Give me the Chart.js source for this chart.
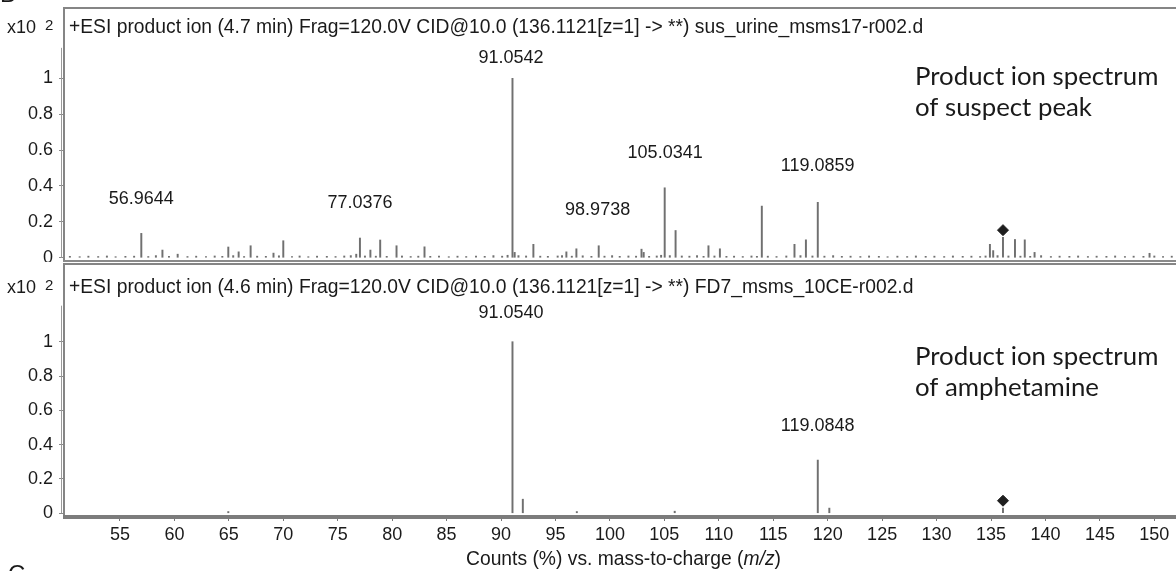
<!DOCTYPE html>
<html>
<head>
<meta charset="utf-8">
<script src="https://cdn.jsdelivr.net/npm/chart.js@4.4.1/dist/chart.umd.min.js"></script>
<style>
  html, body { margin: 0; padding: 0; background: #fff; }
  #wrap { position: relative; width: 1176px; height: 571px; overflow: hidden; }
  #top { position: absolute; left: 0; top: 0; }
  #bottom { position: absolute; left: 0; top: 262px; }
</style>
</head>
<body>
<div id="wrap">
  <canvas id="top" width="1176" height="262"></canvas>
  <canvas id="bottom" width="1176" height="309"></canvas>
</div>
<script>
// axis ticks
const xTicks = [55, 60, 65, 70, 75, 80, 85, 90, 95, 100, 105, 110, 115, 120, 125, 130, 135, 140, 145, 150];
const yTicks = [0, 0.2, 0.4, 0.6, 0.8, 1];

// suspect peak spectrum (counts x10^2)
const suspectMz = [56.96, 58.9, 60.3, 64.95, 65.9, 67.0, 69.1, 70.0, 76.7, 77.04, 78.0, 78.9, 80.4, 82.97,
  91.05, 91.25, 92.97, 96.0, 96.92, 98.97, 102.9, 103.1, 105.03, 106.03, 109.05, 110.1, 113.95,
  116.95, 118.0, 119.09, 134.9, 135.2, 136.1, 137.2, 138.1, 139.0, 149.56];
const suspectCounts = [0.136, 0.043, 0.02, 0.06, 0.033, 0.067, 0.026, 0.095, 0.02, 0.11, 0.043, 0.099, 0.067, 0.061,
  1.0, 0.03, 0.075, 0.033, 0.05, 0.067, 0.048, 0.03, 0.39, 0.152, 0.067, 0.05, 0.288,
  0.075, 0.1, 0.309, 0.075, 0.04, 0.114, 0.102, 0.1, 0.03, 0.025];

// baseline noise of the suspect spectrum
const noiseMz = [50.4, 51.3, 52.1, 53.0, 53.8, 54.6, 55.5, 56.3, 57.6, 58.3, 59.5, 61.2, 62.0, 62.9, 63.7, 64.4,
  65.4, 66.4, 67.6, 68.4, 69.6, 70.8, 71.5, 72.3, 73.1, 74.0, 74.8, 75.6, 76.2, 77.5, 78.5, 79.5, 80.9, 81.7,
  82.4, 83.5, 84.3, 85.2, 86.0, 86.8, 87.7, 88.5, 89.3, 90.1, 90.6, 91.6, 92.3, 93.6, 94.3, 95.2, 95.6, 96.5,
  97.5, 98.3, 99.5, 100.2, 100.9, 101.7, 102.4, 103.6, 104.3, 104.7, 105.5, 106.6, 107.3, 108.0, 108.6, 109.6,
  110.7, 111.4, 112.2, 113.0, 113.5, 114.5, 115.3, 116.2, 117.5, 118.6, 119.7, 120.5, 121.3, 122.1, 123.0,
  123.8, 124.7, 125.5, 126.4, 127.3, 128.1, 129.0, 129.8, 130.7, 131.5, 132.4, 133.2, 134.0, 134.5, 135.6,
  136.6, 137.7, 138.6, 139.6, 140.5, 141.3, 142.2, 143.0, 143.9, 144.7, 145.6, 146.4, 147.3, 148.1, 149.0,
  150.0, 150.8, 151.6];
const noiseCounts = [0.008, 0.006, 0.009, 0.007, 0.01, 0.006, 0.008, 0.009, 0.007, 0.012, 0.008, 0.007, 0.009, 0.006, 0.01, 0.008,
  0.012, 0.007, 0.009, 0.008, 0.011, 0.007, 0.01, 0.006, 0.009, 0.008, 0.007, 0.01, 0.012, 0.01, 0.009, 0.008, 0.01, 0.007,
  0.009, 0.008, 0.01, 0.006, 0.009, 0.007, 0.01, 0.008, 0.012, 0.009, 0.014, 0.012, 0.01, 0.009, 0.008, 0.01, 0.012, 0.009,
  0.011, 0.008, 0.009, 0.012, 0.008, 0.01, 0.009, 0.008, 0.01, 0.014, 0.012, 0.01, 0.009, 0.012, 0.008, 0.01,
  0.008, 0.009, 0.007, 0.01, 0.008, 0.009, 0.007, 0.01, 0.012, 0.01, 0.009, 0.012, 0.008, 0.009, 0.007,
  0.01, 0.008, 0.006, 0.009, 0.007, 0.01, 0.008, 0.009, 0.007, 0.01, 0.008, 0.009, 0.007, 0.01, 0.012,
  0.01, 0.009, 0.008, 0.012, 0.007, 0.009, 0.008, 0.01, 0.007, 0.009, 0.008, 0.01, 0.007, 0.009, 0.008,
  0.01, 0.007, 0.009];

// amphetamine reference spectrum
const amphMz = [64.95, 91.05, 92.0, 96.96, 105.95, 119.09, 120.15, 136.1];
const amphCounts = [0.01, 1.0, 0.082, 0.01, 0.012, 0.31, 0.03, 0.03];

// precursor markers
const precursorMz = 136.1;
const suspectPrecursor = 0.154;
const amphPrecursor = 0.073;

// peak labels
const suspectLabels = ['56.9644', '77.0376', '91.0542', '98.9738', '105.0341', '119.0859'];
const suspectLabelMz = [56.96, 77.04, 90.92, 98.87, 105.07, 119.08];
const suspectLabelLevel = [0.327, 0.305, 1.113, 0.266, 0.584, 0.511];
const amphLabels = ['91.0540', '119.0848'];
const amphLabelMz = [90.92, 119.08];
const amphLabelLevel = [1.166, 0.51];

const SANS = '"Liberation Sans", Arial, sans-serif';

function pts(xs, ys) {
    return xs.map((v, i) => ({ x: v, y: ys[i] }));
}

function noEdgePadding(s) {
    s.paddingTop = 0;
    s.paddingBottom = 0;
    s.paddingLeft = 0;
    s.paddingRight = 0;
}

const decor = {
    id: 'decor',
    afterDraw(chart, args, o) {
        const { ctx, chartArea: a, scales: { x, y } } = chart;
        ctx.save();
        // frame
        ctx.strokeStyle = '#858585';
        ctx.lineWidth = 2;
        ctx.beginPath();
        ctx.moveTo(a.right + 2, a.top);
        ctx.lineTo(a.left, a.top);
        ctx.lineTo(a.left, a.bottom);
        ctx.stroke();
        ctx.strokeStyle = o.bottomColor;
        ctx.lineWidth = o.bottomWidth;
        ctx.beginPath();
        ctx.moveTo(a.left - 1, a.bottom + o.bottomWidth / 2 - 1);
        ctx.lineTo(a.right + 2, a.bottom + o.bottomWidth / 2 - 1);
        ctx.stroke();
        // y axis line
        ctx.strokeStyle = '#9a9a9a';
        ctx.lineWidth = 1;
        ctx.beginPath();
        ctx.moveTo(a.left - 2.5, y.getPixelForValue(o.axisTop));
        ctx.lineTo(a.left - 2.5, y.getPixelForValue(0));
        ctx.stroke();

        ctx.fillStyle = '#1a1a1a';
        ctx.textBaseline = 'middle';
        ctx.textAlign = 'left';
        ctx.font = '19.3px ' + SANS;
        ctx.fillText(o.header, a.left + 5, o.headerY);
        ctx.font = '18px ' + SANS;
        ctx.fillText('x10', 7, o.headerY);
        ctx.font = '15px ' + SANS;
        ctx.fillText('2', 45, o.headerY - 2);

        // peak labels
        ctx.font = '18px ' + SANS;
        ctx.textAlign = 'center';
        o.labels.forEach((t, i) => {
            ctx.fillText(t, x.getPixelForValue(o.labelMz[i]), y.getPixelForValue(o.labelLevel[i]));
        });

        // note
        ctx.font = '25.8px Lato, "Open Sans", sans-serif';
        ctx.textAlign = 'left';
        o.note.forEach((t, i) => ctx.fillText(t, 915, o.noteY + i * 31));

        if (o.xTitle) {
            const f = '19.3px ' + SANS;
            const fi = 'italic 19.3px ' + SANS;
            const p1 = 'Counts (%) vs. mass-to-charge (';
            const p3 = ')';
            ctx.font = f;
            const w1 = ctx.measureText(p1).width;
            ctx.font = fi;
            const w2 = ctx.measureText('m/z').width;
            const sx = 466;
            ctx.textAlign = 'left';
            ctx.font = f;
            ctx.fillText(p1, sx, 298);
            ctx.font = fi;
            ctx.fillText('m/z', sx + w1, 298);
            ctx.font = f;
            ctx.fillText(p3, sx + w1 + w2, 298);
        }
        if (o.corner) {
            ctx.textBaseline = 'alphabetic';
            ctx.font = '24px ' + SANS;
            ctx.fillText(o.corner, o.cornerX, o.cornerY);
        }
        ctx.restore();
    }
};

function makeChart(id, cfg) {
    const ctx = document.getElementById(id);
    const datasets = cfg.sets.map(s => ({
        type: 'bar',
        data: pts(s[0], s[1]),
        backgroundColor: '#707070',
        barThickness: 1.3,
        grouped: false
    }));
    datasets.push({
        type: 'scatter',
        data: [{ x: precursorMz, y: cfg.marker }],
        pointStyle: 'rectRot',
        radius: 5.5,
        backgroundColor: '#1e1e1e',
        borderColor: '#1e1e1e',
        borderWidth: 1
    });
    return new Chart(ctx, {
        type: 'bar',
        data: { datasets: datasets },
        plugins: [decor],
        options: {
            responsive: false,
            animation: false,
            layout: { padding: cfg.padding, autoPadding: false },
            plugins: {
                legend: { display: false },
                tooltip: { enabled: false },
                decor: cfg.decor
            },
            scales: {
                x: {
                    type: 'linear',
                    display: cfg.showX,
                    offset: false,
                    min: 49.86,
                    max: 151.99,
                    afterBuildTicks: s => { s.ticks = xTicks.map(v => ({ value: v })); },
                    afterFit: s => {
                        if (cfg.showX) s.height = 55;
                        noEdgePadding(s);
                    },
                    border: { display: false },
                    grid: { drawOnChartArea: false, offset: false, tickLength: 5, color: '#777' },
                    ticks: { color: '#1a1a1a', font: { size: 18, family: SANS }, padding: 3, maxRotation: 0, autoSkip: false }
                },
                y: {
                    min: cfg.yMin,
                    max: cfg.yMax,
                    afterBuildTicks: s => { s.ticks = yTicks.map(v => ({ value: v })); },
                    afterFit: s => {
                        s.width = 64;
                        noEdgePadding(s);
                    },
                    border: { display: false },
                    grid: { drawOnChartArea: false, tickLength: 5, color: '#888' },
                    ticks: {
                        color: '#1a1a1a',
                        font: { size: 18, family: SANS },
                        padding: 6,
                        callback: v => String(+v.toFixed(1))
                    }
                }
            }
        }
    });
}

document.addEventListener('DOMContentLoaded', function () {
    makeChart('top', {
        sets: [[suspectMz, suspectCounts], [noiseMz, noiseCounts]],
        marker: suspectPrecursor,
        showX: false,
        padding: { top: 8, bottom: 1, left: 0, right: 0 },
        yMin: -0.018,
        yMax: 1.392,
        decor: {
            header: '+ESI product ion (4.7 min) Frag=120.0V CID@10.0 (136.1121[z=1] -> **) sus_urine_msms17-r002.d',
            headerY: 28,
            axisTop: 1.17,
            bottomColor: '#8a8a8a',
            bottomWidth: 2,
            labels: suspectLabels,
            labelMz: suspectLabelMz,
            labelLevel: suspectLabelLevel,
            note: ['Product ion spectrum', 'of suspect peak'],
            noteY: 77,
            corner: 'B',
            cornerX: 0,
            cornerY: 2
        }
    });
    makeChart('bottom', {
        sets: [[amphMz, amphCounts]],
        marker: amphPrecursor,
        showX: true,
        padding: { top: 2, bottom: 0, left: 0, right: 0 },
        yMin: -0.016,
        yMax: 1.453,
        decor: {
            header: '+ESI product ion (4.6 min) Frag=120.0V CID@10.0 (136.1121[z=1] -> **) FD7_msms_10CE-r002.d',
            headerY: 26,
            axisTop: 1.21,
            bottomColor: '#7c7c7c',
            bottomWidth: 4,
            labels: amphLabels,
            labelMz: amphLabelMz,
            labelLevel: amphLabelLevel,
            note: ['Product ion spectrum', 'of amphetamine'],
            noteY: 95,
            xTitle: true,
            corner: 'C',
            cornerX: 8,
            cornerY: 320
        }
    });
});
</script>
</body>
</html>
